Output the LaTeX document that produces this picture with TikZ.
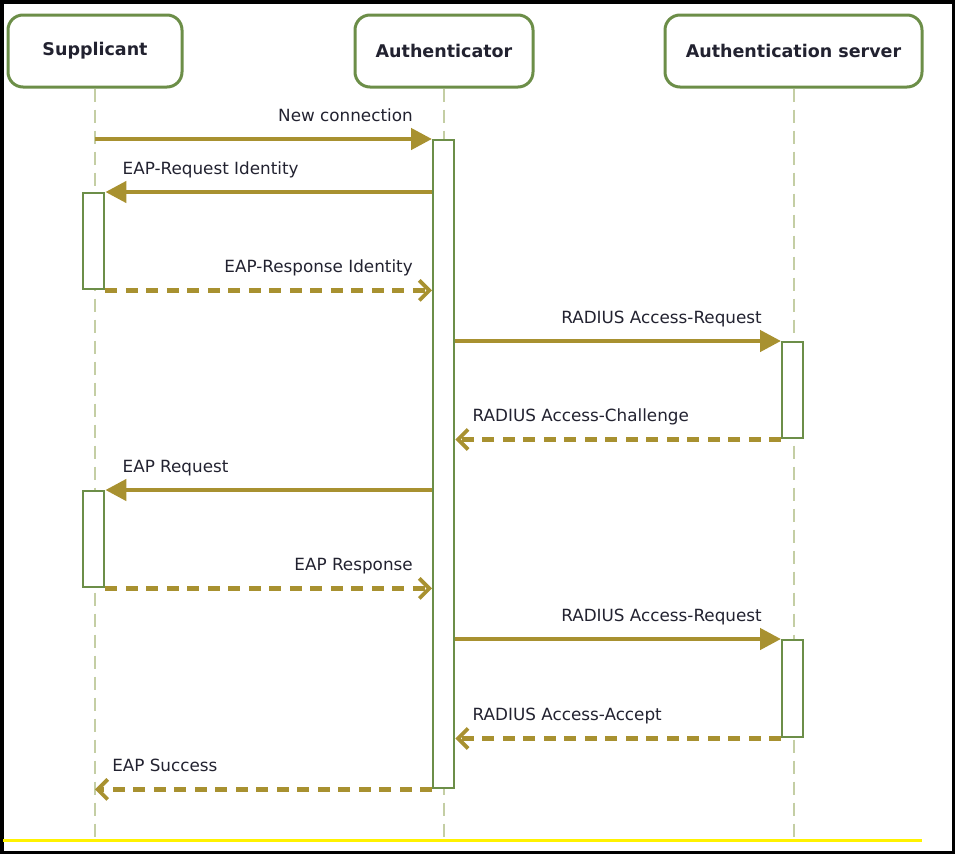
\documentclass[tikz,border=0pt]{standalone}
\usepackage{fontspec}
\setmainfont{DejaVu Sans}
\usetikzlibrary{arrows.meta,calc}

\definecolor{msgc}{RGB}{168,145,48}
\definecolor{boxc}{RGB}{108,142,72}
\definecolor{lifec}{RGB}{196,206,164}
\definecolor{txtc}{RGB}{34,34,48}

\tikzset{
  head/.style={draw=boxc, line width=3pt, rounded corners=15pt, fill=white,
    text=txtc, font=\fontsize{17.5}{21}\selectfont\bfseries, minimum height=72pt},
  lifeline/.style={draw=lifec, line width=2pt, dash pattern=on 13pt off 8pt},
  actbar/.style={draw=boxc, line width=2.4pt, fill=white, minimum width=21pt,
    anchor=north west, inner sep=0pt},
  call/.style={draw=msgc, line width=4.5pt, -{Triangle[length=21pt,width=21pt]}},
  reply/.style={draw=msgc, line width=4.5pt, dash pattern=on 12pt off 8.5pt,
    -{Straight Barb[length=10pt,width=20pt,line width=3.8pt]}},
  rlabel/.style={anchor=base east, xshift=-17pt, yshift=18pt, text=txtc, inner sep=0pt},
  llabel/.style={anchor=base west, xshift=15pt, yshift=18pt, text=txtc, inner sep=0pt},
}

\begin{document}
\begin{tikzpicture}[x=1pt, y=-1pt, font=\fontsize{16.8}{20}\selectfont]
\useasboundingbox (0,0) rectangle (955,854);

% outer frame and bottom rule
\draw[line width=3.5pt] (1.75,1.75) rectangle (953.25,852.25);
\draw[yellow, line width=3pt] (3,840) -- (922,840);

% participants
\node[head, minimum width=174pt] (sup) at (95,51) {Supplicant};
\node[head, minimum width=178pt] (auth) at (444,51) {Authenticator};
\node[head, minimum width=257pt] (srv) at (793.5,51) {Authentication server};

% lifelines
\coordinate (supEnd) at (95,840);
\coordinate (authEnd) at (444,840);
\coordinate (srvEnd) at (793.5,840);
\draw[lifeline] (sup.south) -- (supEnd);
\draw[lifeline] (auth.south) -- (authEnd);
\draw[lifeline] (srv.south) -- (srvEnd);

% activation bars
\node[actbar, minimum height=648pt] (actA) at (432,139) {};
\node[actbar, minimum height=96pt] (actS1) at (82,192) {};
\node[actbar, minimum height=96pt] (actS2) at (82,490) {};
\node[actbar, minimum height=96pt] (actB1) at (781,341) {};
\node[actbar, minimum height=97pt] (actB2) at (781,639) {};

% messages
\draw[call] (sup.south |- actA.north west) -- (actA.north west)
  node[rlabel] {New connection};
\draw[call] (actA.west |- actS1.north east) -- (actS1.north east)
  node[llabel] {EAP-Request Identity};
\draw[reply] (actS1.south east) -- (actA.west |- actS1.south east)
  node[rlabel] {EAP-Response Identity};
\draw[call] (actA.east |- actB1.north west) -- (actB1.north west)
  node[rlabel] {RADIUS Access-Request};
\draw[reply] (actB1.south west) -- (actA.east |- actB1.south west)
  node[llabel] {RADIUS Access-Challenge};
\draw[call] (actA.west |- actS2.north east) -- (actS2.north east)
  node[llabel] {EAP Request};
\draw[reply] (actS2.south east) -- (actA.west |- actS2.south east)
  node[rlabel] {EAP Response};
\draw[call] (actA.east |- actB2.north west) -- (actB2.north west)
  node[rlabel] {RADIUS Access-Request};
\draw[reply] (actB2.south west) -- (actA.east |- actB2.south west)
  node[llabel] {RADIUS Access-Accept};
\draw[reply] (actA.south west) -- (sup.south |- actA.south west)
  node[llabel] {EAP Success};
\end{tikzpicture}
\end{document}
